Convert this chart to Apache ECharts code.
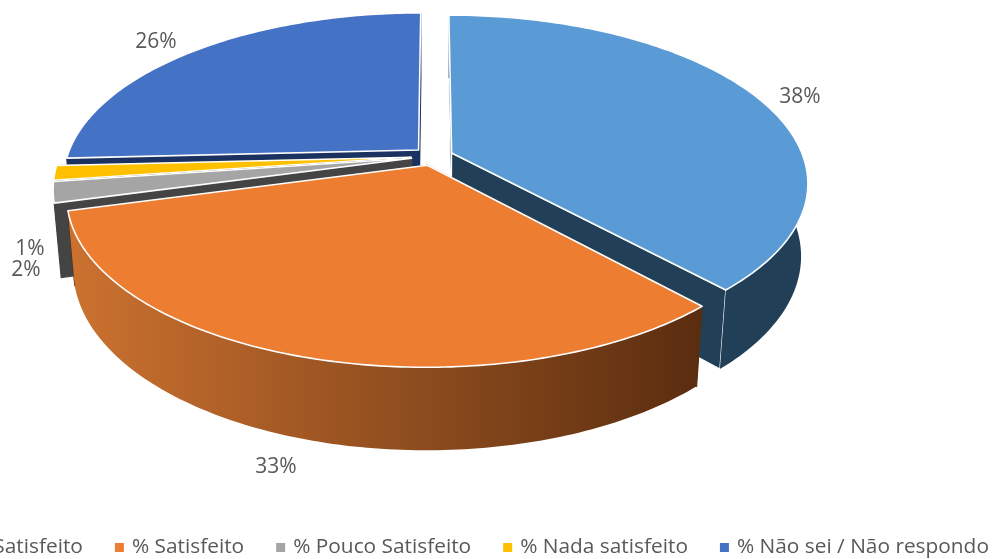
<!DOCTYPE html>
<html><head><meta charset="utf-8">
<style>html,body{margin:0;padding:0;background:#fff;overflow:hidden}#c{width:992px;height:559px}</style>
<script src="https://cdn.jsdelivr.net/npm/echarts@6/dist/echarts.min.js"></script>
</head><body><div id="c"></div>
<script>
const categories = ['% Muito Satisfeito', '% Satisfeito', '% Pouco Satisfeito', '% Nada satisfeito', '% Não sei / Não respondo'];
const values = [38.2, 32.6, 2.0, 1.4, 25.8];
const topColors = ['#5B9BD5', '#ED7D31', '#A5A5A5', '#FFC000', '#4472C4'];
const sideColors = ['#223F58', null, '#444444', '#7A5C00', '#1B3260'];
const labelSpots = [[800, 97], [276, 467], [26, 270], [30, 249], [156, 42]];
const zOrder = [4, 5, 3, 2, 1];
const explode = [0.057, 0.057, 0.062, 0.062, 0.057];

// perspective model of the tilted disc
const CX = 433, CY = 156.3;
const R = 351.5, Q = 163.1, P = 0.175, S = 0.018, H = 73;
const total = values.reduce((s, v) => s + v, 0);
const starts = []; let acc = 0;
values.forEach(v => { starts.push(acc / total * 2 * Math.PI); acc += v; });

function renderSlice(i) {
  const a0 = starts[i], a1 = a0 + values[i] / total * 2 * Math.PI, mid = (a0 + a1) / 2;
  const at = (a, r, d) => {
    const u = explode[i] * Math.sin(mid) + r * Math.sin(a);
    const v = -explode[i] * Math.cos(mid) - r * Math.cos(a);
    const w = 1 - P * v + S * d;
    return [CX + R * u / w, CY + (Q * v + H * d) / w];
  };
  const n = Math.max(6, Math.ceil((a1 - a0) * 60));
  const topArc = [], botArc = [];
  for (let k = 0; k <= n; k++) {
    const a = a0 + (a1 - a0) * k / n;
    topArc.push(at(a, 1, 0)); botArc.push(at(a, 1, 1));
  }
  const side = i === 1
    ? { type: 'linear', x: 0, y: 0, x2: 1, y2: 0, colorStops: [{ offset: 0, color: '#CC7230' }, { offset: 1, color: '#5A2D0F' }] }
    : sideColors[i];
  const faceColor = i === 1 ? '#5A2D0F' : sideColors[i];
  const face = (a) => ({ type: 'polygon', shape: { points: [at(a, 0, 0), at(a, 1, 0), at(a, 1, 1), at(a, 0, 1)] },
    style: { fill: faceColor, stroke: i === 0 ? '#fff' : faceColor, lineWidth: 1.2 } });
  return {
    type: 'group',
    children: [
      face(a0), face(a1),
      { type: 'polygon', shape: { points: topArc.concat(botArc.slice().reverse()) }, style: { fill: side } },
      { type: 'polygon', shape: { points: [at(a0, 0, 0)].concat(topArc) }, style: { fill: topColors[i], stroke: '#fff', lineWidth: 1.6, lineJoin: 'round' } },
      { type: 'text', style: { x: labelSpots[i][0], y: labelSpots[i][1], text: Math.round(values[i]) + '%', fill: '#595959', font: '21px "Open Sans"', align: 'center', verticalAlign: 'middle' } }
    ]
  };
}

const chart = echarts.init(document.getElementById('c'), null, { renderer: 'canvas' });
chart.setOption({
  animation: false,
  backgroundColor: '#fff',
  legend: {
    data: categories, left: -108.5, top: 537, width: 1400, icon: 'rect', itemWidth: 9, itemHeight: 9, itemGap: 32,
    textStyle: { color: '#595959', fontSize: 20.85, fontFamily: '"Open Sans"', padding: [0, 0, 0, 3] }, padding: 0,
    selectedMode: false
  },
  series: categories.map((name, i) => ({
    type: 'custom', name, coordinateSystem: 'none', z: zOrder[i], silent: true,
    itemStyle: { color: topColors[i] },
    data: [values[i]],
    renderItem: () => renderSlice(i)
  }))
});
</script></body></html>
